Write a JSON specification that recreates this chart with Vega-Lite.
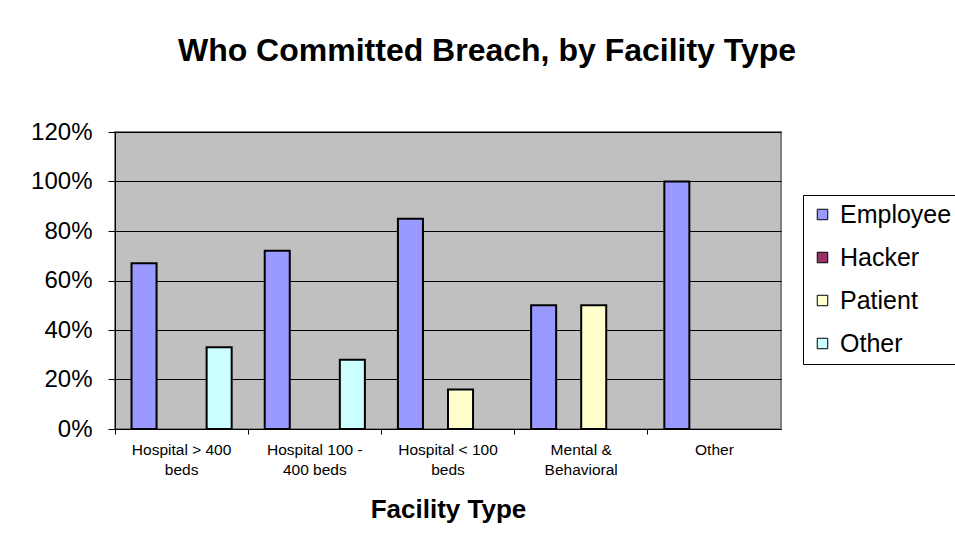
{
  "$schema": "https://vega.github.io/schema/vega-lite/v6.json",
  "width": 666,
  "height": 297,
  "autosize": "none",
  "padding": {"left": 115, "top": 132, "right": 174, "bottom": 121},
  "background": "white",
  "title": {
    "text": "Who Committed Breach, by Facility Type",
    "font": "Liberation Sans",
    "fontSize": 32,
    "fontWeight": "bold",
    "color": "black",
    "anchor": "middle",
    "frame": "group",
    "dx": 39,
    "offset": 52
  },
  "data": {
    "values": [
      {"facility": "Hospital > 400 beds", "who": "Employee", "share": 0.67},
      {"facility": "Hospital > 400 beds", "who": "Other", "share": 0.33},
      {"facility": "Hospital 100 - 400 beds", "who": "Employee", "share": 0.72},
      {"facility": "Hospital 100 - 400 beds", "who": "Other", "share": 0.28},
      {"facility": "Hospital < 100 beds", "who": "Employee", "share": 0.85},
      {"facility": "Hospital < 100 beds", "who": "Patient", "share": 0.16},
      {"facility": "Mental & Behavioral", "who": "Employee", "share": 0.5},
      {"facility": "Mental & Behavioral", "who": "Patient", "share": 0.5},
      {"facility": "Other", "who": "Employee", "share": 1.0}
    ]
  },
  "mark": {"type": "bar", "stroke": "black", "strokeWidth": 2},
  "encoding": {
    "x": {
      "field": "facility",
      "type": "nominal",
      "sort": null,
      "scale": {
        "domain": ["Hospital > 400 beds", "Hospital 100 - 400 beds", "Hospital < 100 beds", "Mental & Behavioral", "Other"],
        "paddingInner": 0,
        "paddingOuter": 0
      },
      "axis": {
        "title": "Facility Type",
        "titleFont": "Liberation Sans",
        "titleFontSize": 26,
        "titleFontWeight": "bold",
        "titleColor": "black",
        "titlePadding": 19,
        "labelAngle": 0,
        "labelFont": "Liberation Sans",
        "labelFontSize": 15.5,
        "labelColor": "black",
        "labelPadding": 8,
        "labelLineHeight": 20,
        "labelExpr": "datum.value == 'Hospital > 400 beds' ? ['Hospital > 400', 'beds'] : datum.value == 'Hospital 100 - 400 beds' ? ['Hospital 100 -', '400 beds'] : datum.value == 'Hospital < 100 beds' ? ['Hospital < 100', 'beds'] : datum.value == 'Mental & Behavioral' ? ['Mental &', 'Behavioral'] : datum.value",
        "bandPosition": 0,
        "tickSize": 5,
        "tickColor": "black",
        "domainColor": "black",
        "domainWidth": 1,
        "grid": false
      }
    },
    "xOffset": {
      "field": "who",
      "type": "nominal",
      "scale": {"domain": ["Employee", "Hacker", "Patient", "Other"], "paddingInner": 0, "paddingOuter": 0.66}
    },
    "y": {
      "field": "share",
      "type": "quantitative",
      "scale": {"domain": [0, 1.2], "nice": false},
      "axis": {
        "title": null,
        "format": ".0%",
        "values": [0, 0.2, 0.4, 0.6, 0.8, 1.0, 1.2],
        "labelFont": "Liberation Sans",
        "labelFontSize": 24,
        "labelColor": "black",
        "labelPadding": 16,
        "tickSize": 7,
        "tickColor": "black",
        "domainColor": "black",
        "domainWidth": 1,
        "grid": true,
        "gridColor": "black",
        "gridWidth": 1
      }
    },
    "color": {
      "field": "who",
      "type": "nominal",
      "title": null,
      "scale": {"domain": ["Employee", "Hacker", "Patient", "Other"], "range": ["#9999FF", "#993366", "#FFFFCC", "#CCFFFF"]},
      "legend": {
        "orient": "none",
        "legendX": 688,
        "legendY": 63,
        "symbolType": "square",
        "symbolSize": 110,
        "symbolStrokeColor": "black",
        "symbolStrokeWidth": 1,
        "symbolOpacity": 1,
        "labelFont": "Liberation Sans",
        "labelFontSize": 25,
        "labelColor": "black",
        "labelOffset": 5,
        "rowPadding": 17,
        "padding": 7,
        "strokeColor": "black",
        "fillColor": "white",
        "labelLimit": 300
      }
    }
  },
  "config": {
    "view": {"fill": "#C0C0C0", "stroke": "#808080", "strokeWidth": 2},
    "axis": {"domain": true}
  }
}
